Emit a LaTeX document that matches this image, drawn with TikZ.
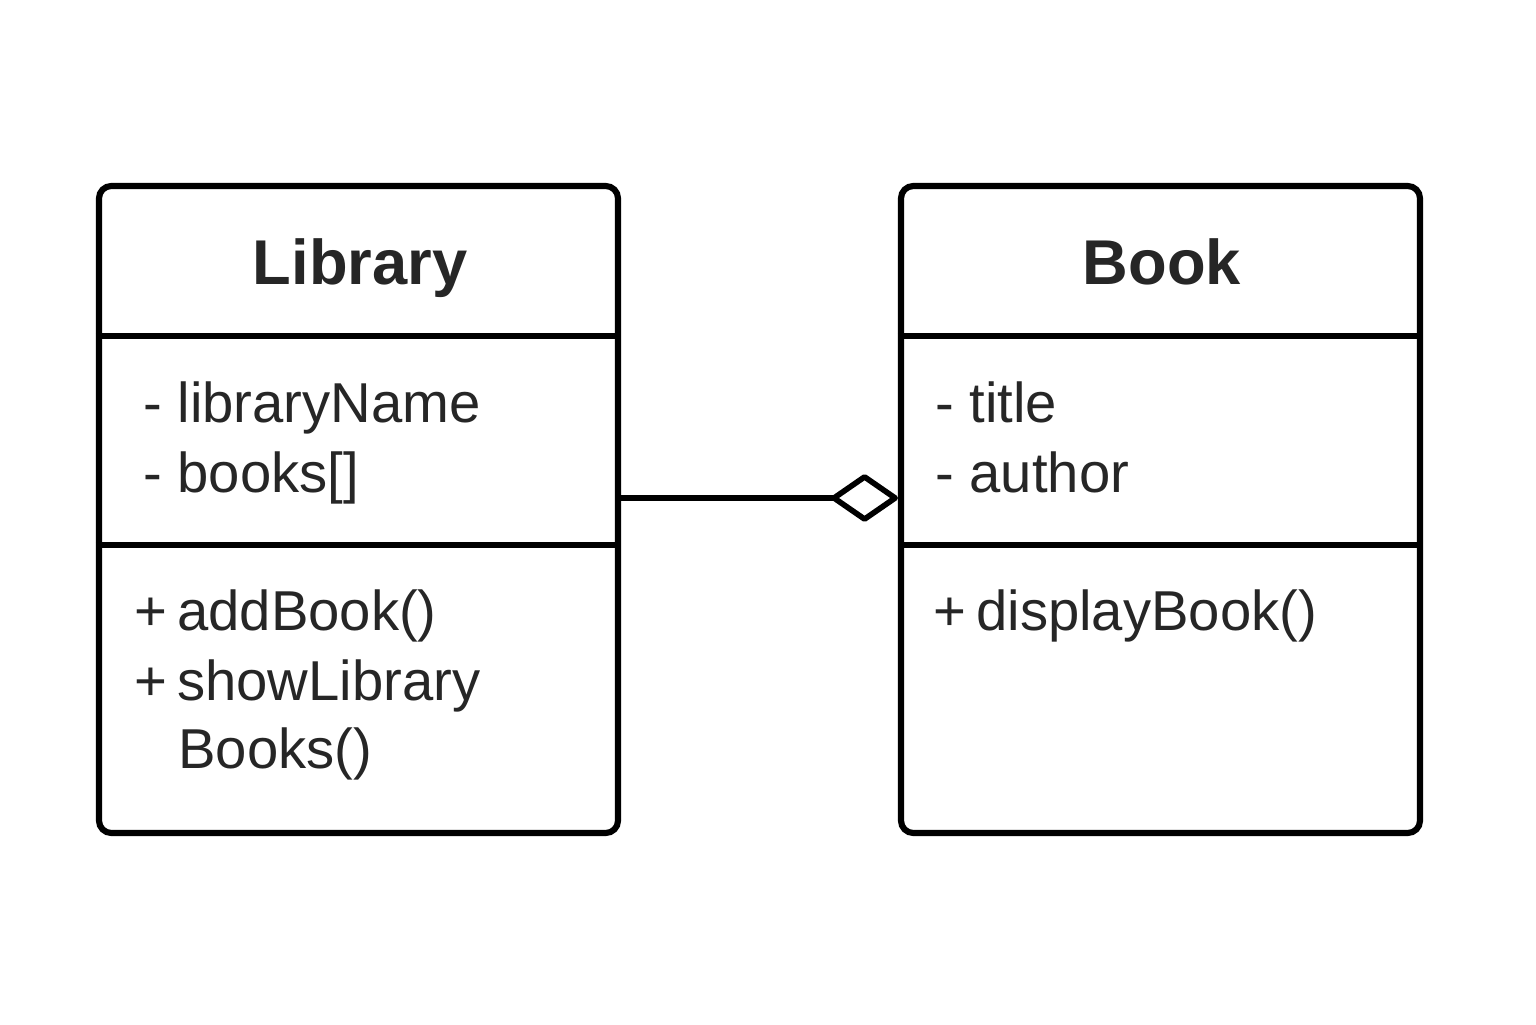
\documentclass[tikz,border=0pt]{standalone}
\usepackage{fontspec}
\setmainfont{Liberation Sans}
\usepackage{tikz}
\usetikzlibrary{arrows.meta}

\begin{document}
\begin{tikzpicture}[
        classbox/.style={draw, line width=3.5pt, rounded corners=7pt, minimum width=10.38cm, minimum height=12.94cm, inner sep=0pt},
        sepline/.style={line width=3.5pt},
        classname/.style={anchor=base, font=\fontsize{36}{40}\selectfont\bfseries, text=black!85},
        member/.style={anchor=base west, inner sep=0pt, font=\fontsize{32}{36}\selectfont, text=black!85},
        aggr/.style={{Diamond[open, length=1.42cm, width=0.98cm, line join=round]}-, line width=3.2pt}
    ]
        \useasboundingbox (0,0) rectangle (30.72,20.48);
        \node[classbox] (library) at (7.17,10.29) {};
        \node[classbox] (book) at (23.21,10.29) {};

        \draw[sepline] (library.west |- 0,13.76) -- (library.east |- 0,13.76);
        \draw[sepline] (library.west |- 0,9.58) -- (library.east |- 0,9.58);
        \draw[sepline] (book.west |- 0,13.76) -- (book.east |- 0,13.76);
        \draw[sepline] (book.west |- 0,9.58) -- (book.east |- 0,9.58);

        \node[classname] (libname) at (7.2,14.78) {Library};
        \node[classname] (bookname) at (23.24,14.78) {Book};

        \node[member] (libattr1) at (2.86,12.04) {- libraryName};
        \node[member] (libattr2) at (2.86,10.64) {- books[]};
        \node[member] (libop1) at (2.68,7.88) {+\hspace{0.18em}addBook()};
        \node[member] (libop2) at (2.68,6.48) {+\hspace{0.18em}showLibrary};
        \node[member] (libop2b) at (3.56,5.12) {Books()};

        \node[member] (bookattr1) at (18.70,12.04) {- title};
        \node[member] (bookattr2) at (18.70,10.64) {- author};
        \node[member] (bookop1) at (18.66,7.88) {+\hspace{0.18em}displayBook()};

        \coordinate (link) at (0,10.52);
        \draw[aggr] (book.west |- link) -- (library.east |- link);
    \end{tikzpicture}
\end{document}
